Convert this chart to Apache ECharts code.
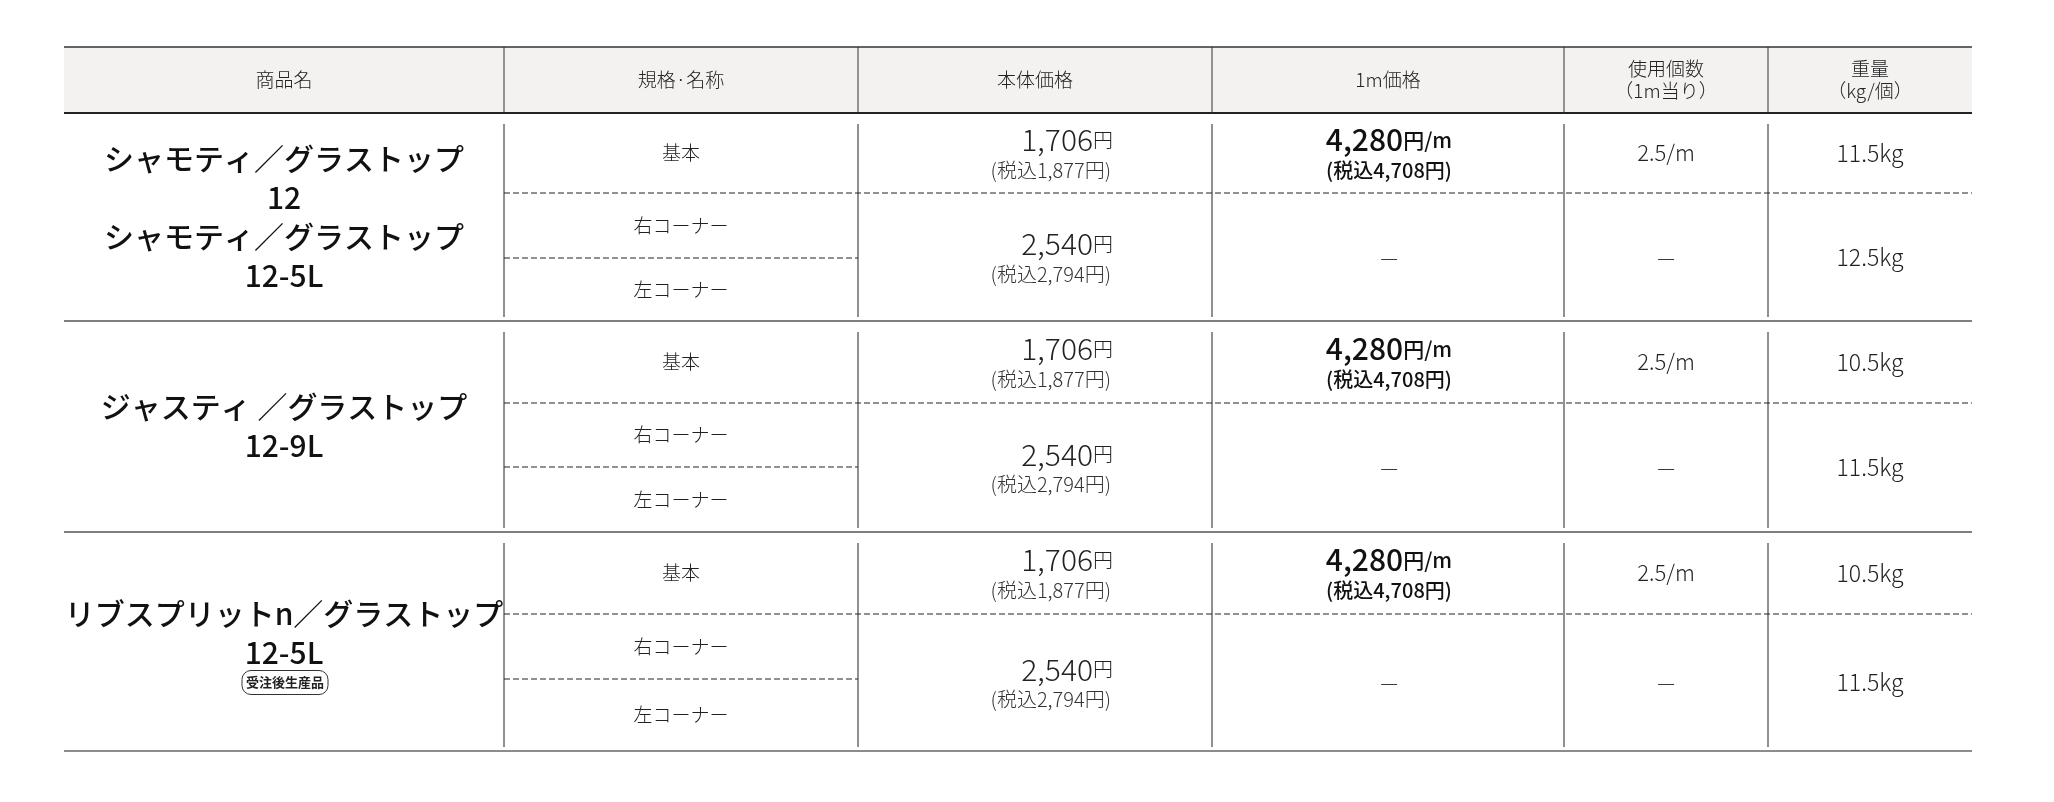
<!DOCTYPE html><html><head><meta charset="utf-8">
<script src="https://cdn.jsdelivr.net/npm/echarts@6/dist/echarts.min.js"></script>
<style>html,body{margin:0;background:#fff}#c{width:2054px;height:802px}</style></head><body><div id="c"></div>
<script>
const headers=['商品名','規格·名称','本体価格','1m価格','使用個数\n（1m当り）','重量\n（kg/個）'];
const products=[['シャモティ／グラストップ','12','シャモティ／グラストップ','12-5L'],['ジャスティ ／グラストップ','12-9L'],['リブスプリットn／グラストップ','12-5L']];
const badges=['','','受注後生産品'];
const specs=['基本','右コーナー','左コーナー'];
const basePrice=['1,706','2,540'];
const basePriceTax=['1,877','2,794'];
const meterPrice='4,280';
const meterPriceTax='4,708';
const usage='2.5/m';
const weights=[['11.5kg','12.5kg'],['10.5kg','11.5kg'],['10.5kg','11.5kg']];

const F='"Noto Sans CJK JP","Noto Sans",sans-serif';
const cols=[64,504,858,1212,1564,1768,1972];
const groups=[[113,321,193,258],[321,532,403,467],[532,751,614,679]];
const g=[];
function line(x1,y1,x2,y2,c,w,dash){g.push({type:'line',shape:{x1,y1,x2,y2},style:{stroke:c,lineWidth:w,lineDash:dash?[6,3]:null}});}
function text(x,y,t,size,align,extra){g.push({type:'text',x,y,style:Object.assign({text:t,font:`300 ${size}px ${F}`,fill:'#222',align:align||'center',verticalAlign:'middle',lineHeight:size*1.15},extra||{})});}
g.push({type:'rect',shape:{x:64,y:47,width:1908,height:66},style:{fill:'#f3f2f0'}});
line(64,47,1972,47,'#333',1.5);line(64,113,1972,113,'#222',2);
for(let i=1;i<6;i++)line(cols[i],47,cols[i],113,'#333',1);
headers.forEach((h,i)=>text((cols[i]+cols[i+1])/2,80,h,19));
const rich={b:{font:`300 30px ${F}`,fill:'#222'},s:{font:`300 20px ${F}`,fill:'#222'},bb:{font:`500 30px ${F}`,fill:'#111'},bs:{font:`500 21px ${F}`,fill:'#111'},t:{font:`300 20px ${F}`,fill:'#333'},tb:{font:`500 20px ${F}`,fill:'#111'}};
groups.forEach((gr,k)=>{
  const [top,bot,d1,d2]=gr;
  line(64,bot,1972,bot,k==2?'#666':'#555',1.5);
  for(let i=1;i<6;i++)line(cols[i],top+11,cols[i],bot-4,'#222',1);
  line(504,d1,1972,d1,'#222',1,true);line(504,d2,858,d2,'#222',1,true);
  const p=products[k];const cy=(top+bot)/2-(badges[k]?8:0);const lh=39;
  p.forEach((s,j)=>g.push({type:'text',x:284,y:cy+(j-(p.length-1)/2)*lh,style:{text:s,font:`500 30px ${F}`,fill:'#111',align:'center',verticalAlign:'middle'}}));
  if(badges[k]){const by=cy+(p.length/2)*lh+10;g.push({type:'rect',shape:{x:242,y:by-12,width:86,height:24,r:9},style:{fill:'#fff',stroke:'#333',lineWidth:1}});g.push({type:'text',x:285,y:by,style:{text:badges[k],font:`bold 13px ${F}`,fill:'#222',align:'center',verticalAlign:'middle'}});}
  const r=[(top+d1)/2,(d1+d2)/2,(d2+bot)/2];
  specs.forEach((s,j)=>text(681,r[j],s,19));
  const m1=r[0],m2=(d1+bot)/2;
  [m1,m2].forEach((m,j)=>{
    g.push({type:'text',x:1113,y:m-13,style:{text:`{b|${basePrice[j]}}{s|円}`,rich,align:'right',verticalAlign:'middle'}});
    g.push({type:'text',x:1111,y:m+17,style:{text:`{t|(税込${basePriceTax[j]}円)}`,rich,align:'right',verticalAlign:'middle'}});
  });
  g.push({type:'text',x:1389,y:m1-13,style:{text:`{bb|${meterPrice}}{bs|円/m}`,rich,align:'center',verticalAlign:'middle'}});
  g.push({type:'text',x:1389,y:m1+17,style:{text:`{tb|(税込${meterPriceTax}円)}`,rich,align:'center',verticalAlign:'middle'}});
  text(1389,m2,'—',20);
  text(1666,m1,usage,22);text(1666,m2,'—',20);
  text(1870,m1,weights[k][0],23);text(1870,m2,weights[k][1],23);
});
const ch=echarts.init(document.getElementById('c'));
ch.setOption({animation:false,graphic:g});
</script></body></html>
